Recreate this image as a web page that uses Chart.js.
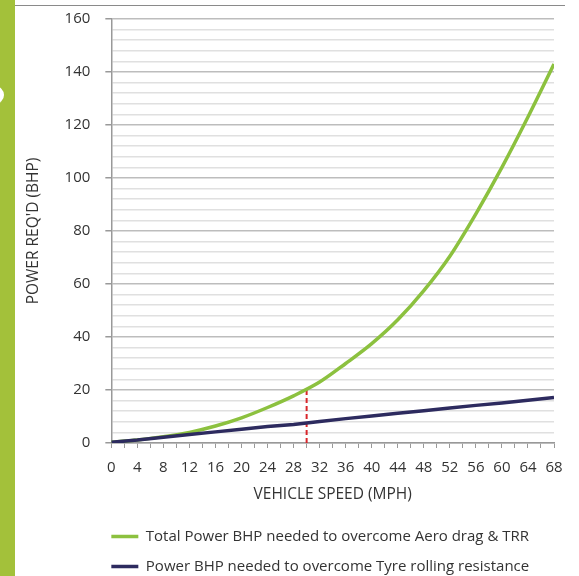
<!DOCTYPE html>
<html>
<head>
<meta charset="utf-8">
<script src="https://cdn.jsdelivr.net/npm/chart.js@4.4.1/dist/chart.umd.min.js"></script>
<style>
  html, body { margin: 0; padding: 0; background: #fff; }
  #page { position: relative; width: 579px; height: 576px; overflow: hidden; }
  #band { position: absolute; left: 0; top: 0; width: 15px; height: 576px; background: #a3c13a; }
  #dot { position: absolute; left: -14px; top: 86px; width: 18px; height: 18px; border-radius: 50%; background: #fff; }
  #rule { position: absolute; left: 15px; top: 5px; width: 550px; height: 0; border-top: 1.5px solid #8a8a8a; }
  #wrap { position: absolute; left: 15px; top: 0; width: 564px; height: 576px; }
</style>
</head>
<body>
<div id="page">
  <div id="band"></div>
  <div id="dot"></div>
  <div id="rule"></div>
  <div id="wrap"><canvas id="powerChart"></canvas></div>
</div>
<script>
// speeds in mph, every 4 mph
const speeds = [0, 4, 8, 12, 16, 20, 24, 28, 32, 36, 40, 44, 48, 52, 56, 60, 64, 68];
// total power (aero + tyre) BHP
const totalPower = [0.3, 1.1, 2.4, 4.0, 6.4, 9.5, 13.4, 17.8, 23.0, 30.0, 37.5, 46.5, 57.5, 70.5, 86.5, 104, 123, 143];
// tyre rolling resistance only, BHP
const tyrePower = [0.3, 1.1, 2.2, 3.2, 4.2, 5.2, 6.2, 7.0, 8.1, 9.2, 10.2, 11.2, 12.2, 13.2, 14.2, 15.1, 16.1, 17.2];
// dashed marker at 30 mph
const markerSpeed = [30, 30];
const markerPower = [0, 20];

const seriesNames = [
    'Total Power BHP needed to overcome Aero drag & TRR',
    'Power BHP needed to overcome Tyre rolling resistance'
];

const toPoints = (xs, ys) => xs.map((x, i) => ({x: x, y: ys[i]}));

// move the legend so its rows start at the plot's left edge, and a bit lower
const LegendShift = {
    id: 'legendShift',
    afterLayout(chart, args, opts){
        const lg = chart.legend;
        const pad = lg.options.labels.padding;
        lg.left = chart.chartArea.left - pad;
        lg.top += opts.down;
        lg.bottom += opts.down;
    }
};

const data = {
    datasets: [{
        label: seriesNames[0],
        data: toPoints(speeds, totalPower),
        borderColor: '#8cc13f',
        backgroundColor: '#8cc13f',
        borderWidth: 3.5,
        pointRadius: 0,
        cubicInterpolationMode: 'monotone',
        order: 2
    }, {
        label: seriesNames[1],
        data: toPoints(speeds, tyrePower),
        borderColor: '#2d2b5f',
        backgroundColor: '#2d2b5f',
        borderWidth: 3.5,
        pointRadius: 0,
        order: 1
    }, {
        label: 'marker',
        data: toPoints(markerSpeed, markerPower),
        borderColor: '#d8262b',
        borderWidth: 2,
        borderDash: [5, 3],
        pointRadius: 0,
        order: 3
    }]
};

const tickFont = {family: 'Open Sans', size: 15};
const titleFont = {family: 'Open Sans', size: 15.5};

const options = {
    responsive: true,
    maintainAspectRatio: false,
    animation: false,
    layout: {padding: {top: 19, right: 25, left: 0, bottom: 0}},
    plugins: {
        tooltip: {enabled: false},
        legendShift: {down: 8},
        legend: {
            display: true,
            position: 'bottom',
            align: 'start',
            labels: {
                filter: (item) => item.datasetIndex < 2,
                sort: (a, b) => a.datasetIndex - b.datasetIndex,
                usePointStyle: true,
                pointStyle: 'line',
                pointStyleWidth: 27,
                padding: 15,
                color: '#333',
                font: {family: 'Open Sans', size: 15}
            }
        }
    },
    scales: {
        x: {
            type: 'linear',
            min: 0,
            max: 68,
            afterFit: (scale) => { scale.height = 63; },
            ticks: {
                stepSize: 2,
                autoSkip: false,
                maxRotation: 0,
                color: '#333',
                font: tickFont,
                padding: 11,
                callback: (v) => v % 4 === 0 ? v : ''
            },
            grid: {
                drawOnChartArea: false,
                tickLength: 5,
                tickColor: '#999'
            },
            border: {color: '#999', width: 1.5},
            title: {
                display: true,
                text: 'VEHICLE SPEED (MPH)',
                color: '#333',
                font: titleFont,
                padding: {top: 3, bottom: 2}
            }
        },
        y: {
            min: 0,
            max: 160,
            afterFit: (scale) => { scale.paddingTop = 0; },
            ticks: {
                stepSize: 4,
                autoSkip: false,
                color: '#333',
                font: tickFont,
                padding: 15,
                callback: (v) => v % 20 === 0 ? v : ''
            },
            grid: {
                color: (c) => c.tick && c.tick.value % 20 === 0 ? '#bdbdbd' : '#e0e0e0',
                lineWidth: 1.5,
                tickLength: 6,
                tickColor: (c) => c.tick && c.tick.value % 20 === 0 ? '#999' : 'rgba(0,0,0,0)'
            },
            border: {color: '#999', width: 1.5},
            title: {
                display: true,
                text: "POWER REQ'D (BHP)",
                color: '#333',
                font: titleFont,
                padding: {top: 9, bottom: 7}
            }
        }
    }
};

const powerChart = new Chart(document.getElementById('powerChart'), {
    type: 'line',
    data: data,
    options: options,
    plugins: [LegendShift]
});
</script>
</body>
</html>
